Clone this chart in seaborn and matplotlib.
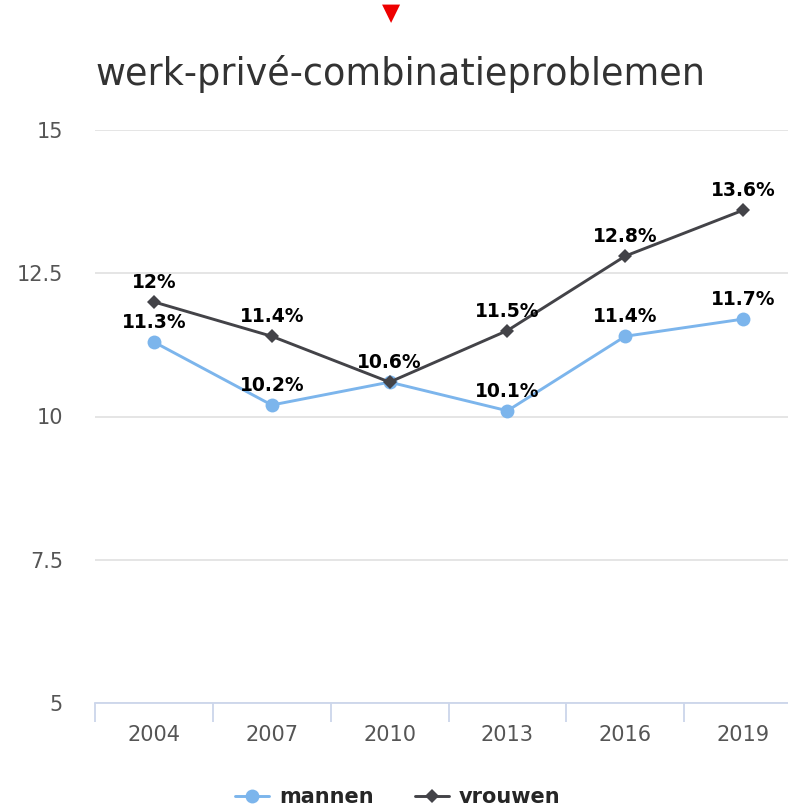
import matplotlib
matplotlib.use("Agg")
import matplotlib.pyplot as plt
import seaborn as sns
import pandas as pd

# data
years = ["2004", "2007", "2010", "2013", "2016", "2019"]
mannen = [11.3, 10.2, 10.6, 10.1, 11.4, 11.7]
vrouwen = [12.0, 11.4, 10.6, 11.5, 12.8, 13.6]
labels_mannen = ["11.3%", "10.2%", "10.6%", "10.1%", "11.4%", "11.7%"]
labels_vrouwen = ["12%", "11.4%", "10.6%", "11.5%", "12.8%", "13.6%"]
yticks = [5, 7.5, 10, 12.5, 15]
ytick_labels = ["5", "7.5", "10", "12.5", "15"]

sns.set_style("white")
plt.rcParams["font.family"] = ["DejaVu Sans"]

df = pd.DataFrame({"jaar": years, "mannen": mannen, "vrouwen": vrouwen})

fig = plt.figure(figsize=(7.88, 8.10), dpi=100)
ax = fig.add_axes([95 / 788, 1 - 703 / 810, 707 / 788, 573 / 810])

blue = "#7cb5ec"
dark = "#434348"

sns.lineplot(data=df, x="jaar", y="mannen", ax=ax, color=blue, lw=2.1,
             marker="o", markersize=10, markeredgewidth=0, label="mannen", zorder=3)
sns.lineplot(data=df, x="jaar", y="vrouwen", ax=ax, color=dark, lw=2.1,
             marker="D", markersize=7.5, markeredgewidth=0, label="vrouwen", zorder=4)

# data labels (10.6% only once, the two series meet there)
for i, (v, t) in enumerate(zip(mannen, labels_mannen)):
    if years[i] == "2010":
        continue
    ax.annotate(t, (i, v), xytext=(0, 10), textcoords="offset points", ha="center",
                va="baseline", fontsize=13.5, fontweight="bold", color="black", zorder=5)
for i, (v, t) in enumerate(zip(vrouwen, labels_vrouwen)):
    ax.annotate(t, (i, v), xytext=(0, 10), textcoords="offset points", ha="center",
                va="baseline", fontsize=13.5, fontweight="bold", color="black", zorder=5)

ax.set_ylim(5, 15)
ax.set_xlim(-0.5, 5.5)
ax.set_yticks(yticks)
ax.set_yticklabels(ytick_labels)
ax.grid(axis="y", color="#e3e3e3", lw=1.3)
ax.set_axisbelow(True)
for s in ["top", "right", "left"]:
    ax.spines[s].set_visible(False)
ax.spines["bottom"].set_color("#ccd6eb")
ax.spines["bottom"].set_linewidth(1.3)

# ticks between categories, labels at categories
ax.set_xticks([i - 0.5 for i in range(len(years) + 1)], minor=False)
ax.set_xticklabels([])
ax.set_xticks(range(len(years)), minor=True)
ax.set_xticklabels(years, minor=True)
ax.tick_params(axis="x", which="major", length=14, width=1.3, color="#ccd6eb", bottom=True)
ax.tick_params(axis="x", which="minor", length=0, pad=16, labelsize=15, labelcolor="#555555")
ax.tick_params(axis="y", length=0, pad=23, labelsize=15, labelcolor="#555555")
ax.set_xlabel("")
ax.set_ylabel("")

ax.get_legend().remove()
handles, lbls = ax.get_legend_handles_labels()
fig.legend(handles, lbls, loc="center", bbox_to_anchor=(398 / 788, 1 - 797 / 810), ncol=2,
           frameon=False, prop={"weight": "bold", "size": 15}, handlelength=1.6,
           columnspacing=2.0, handletextpad=0.5)

fig.text(95 / 788, 1 - 85 / 810, "werk-privé-combinatieproblemen", fontsize=26.4,
         color="#333333", ha="left", va="baseline")
fig.text(391 / 788, 1 - 13 / 810, "▼", fontsize=17, color="#ee0000", ha="center", va="center")

fig.savefig("out.png", dpi=100)
